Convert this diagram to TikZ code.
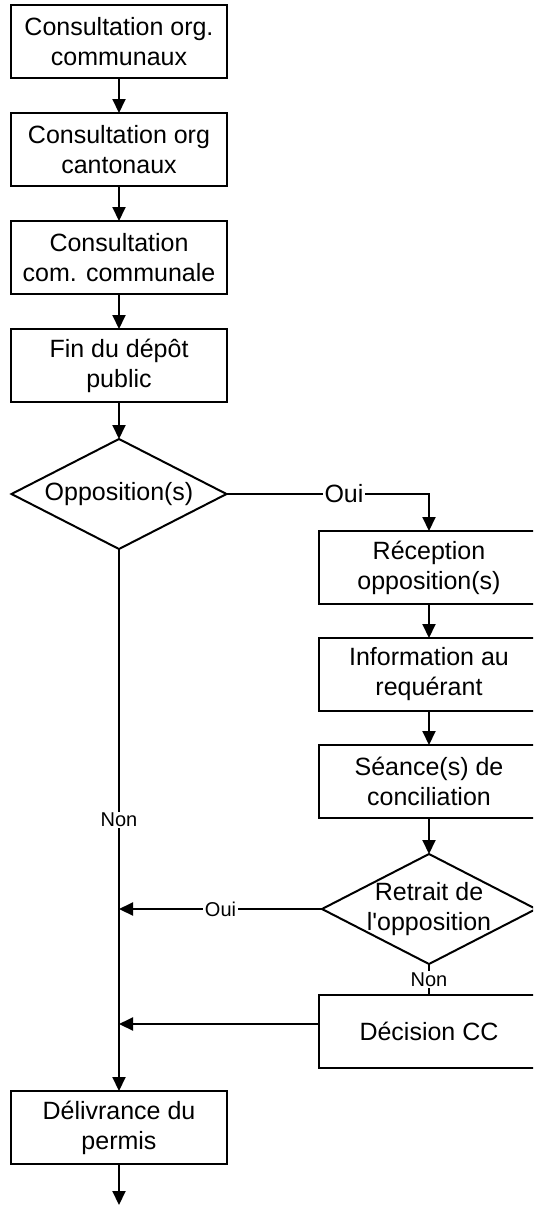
\documentclass[tikz,border=0pt]{standalone}
\usepackage{fontspec}
\setmainfont{Liberation Sans}
\usetikzlibrary{arrows.meta, positioning, calc, shapes.geometric}
\tikzset{
  stage/.style={
    draw, line width=2pt, align=center, inner sep=0pt, outer sep=0pt,
    minimum width=216pt, minimum height=73pt,
    font=\fontsize{25}{30}\selectfont},
  choice/.style={
    draw, diamond, line width=2pt, inner sep=0pt, outer sep=0pt,
    minimum width=215pt, minimum height=110pt},
  choicetext/.style={align=center, inner sep=0pt,
    font=\fontsize{25}{30}\selectfont},
  answer/.style={fill=white, inner sep=1.5pt, font=\fontsize{20}{24}\selectfont},
  flow/.style={-{Triangle[length=14pt, width=13pt]}, line width=2pt},
  link/.style={line width=2pt},
}
\begin{document}
\begin{tikzpicture}[x=1pt, y=1pt, node distance=35pt]
  % page frame; the right column runs past it
  \path[use as bounding box, clip] (0,0) rectangle (533,-1205);
  \node[stage] (orgcom) at (119,-41.5) {Consultation org.\\communaux};
  \node[stage, below=of orgcom] (orgcant) {Consultation org\\cantonaux};
  \node[stage, below=of orgcant] (comcom) {Consultation\\com. communale};
  \node[stage, below=of comcom] (depot) {Fin du dépôt\\public};
  \node[choice, below=37pt of depot,
        label={[choicetext]center:Opposition(s)}] (oppo) {};
  % opposition branch
  \node[stage, minimum width=220pt] (recept) at (429,-567.5) {Réception\\opposition(s)};
  \node[stage, minimum width=220pt, below=34pt of recept] (info) {Information au\\requérant};
  \node[stage, minimum width=220pt, below=34pt of info] (seance) {Séance(s) de\\conciliation};
  \node[choice, minimum width=214pt, below=36pt of seance,
        label={[choicetext]center:{Retrait de\\l\textquotesingle opposition}}] (retrait) {};
  \node[stage, minimum width=220pt, below=31pt of retrait] (decision) {Décision CC};
  \node[stage] (permis) at (119,-1127.5) {Délivrance du\\permis};

  \draw[flow] (orgcom) -- (orgcant);
  \draw[flow] (orgcant) -- (comcom);
  \draw[flow] (comcom) -- (depot);
  \draw[flow] (depot) -- (oppo);
  \draw[flow] (oppo.east) -- node[answer, pos=.58, font=\fontsize{25}{30}\selectfont] {Oui}
    (oppo.east -| recept.north) -- (recept);
  \draw[flow] (recept) -- (info);
  \draw[flow] (info) -- (seance);
  \draw[flow] (seance) -- (retrait);
  \draw[link] (retrait) -- node[answer] {Non} (decision);
  \draw[flow] (oppo) -- node[answer] {Non} (permis);
  % both returns end on the Non line
  \coordinate (joinoui) at (oppo.south |- retrait.west);
  \coordinate (joincc) at ($(oppo.south |- decision.west)+(0,7.5)$);
  \draw[flow] (retrait.west) -- node[answer] {Oui} (joinoui);
  \draw[flow] ([yshift=7.5pt]decision.west) -- (joincc);
  \coordinate (suite) at ($(permis.south)+(0,-41)$);
  \draw[flow] (permis) -- (suite);
\end{tikzpicture}
\end{document}
